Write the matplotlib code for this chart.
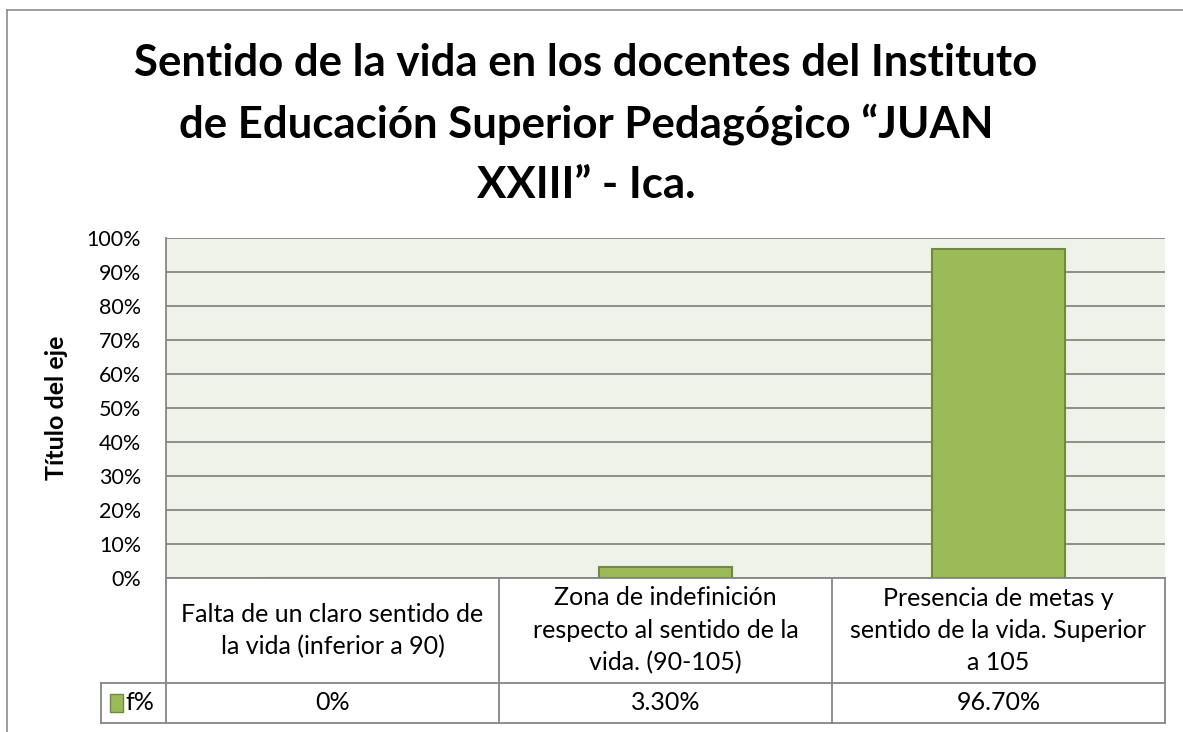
import matplotlib.pyplot as plt
from matplotlib.lines import Line2D
from matplotlib.patches import Rectangle

# datos
categorias = ['Falta de un claro sentido de\nla vida (inferior a 90)',
              'Zona de indefinición\nrespecto al sentido de la\nvida. (90-105)',
              'Presencia de metas y\nsentido de la vida. Superior\na 105']
valores = [0.0, 3.3, 96.7]
etiquetas_valor = ['0%', '3.30%', '96.70%']
serie = 'f%'
yticks = list(range(0, 101, 10))

titulo = ('Sentido de la vida en los docentes del Instituto\n'
          'de Educación Superior Pedagógico \u201cJUAN\n'
          'XXIII\u201d - Ica.')

plt.rcParams['font.family'] = ['Lato', 'DejaVu Sans']

verde = '#9BBB59'
borde_verde = '#71893F'
gris = '#868686'

fig = plt.figure(figsize=(11.83, 7.32), dpi=100)
W, H = 1183, 732

def fx(px):
    return px / W

def fy(py):
    return 1 - py / H

# marco exterior
fig.add_artist(Line2D([fx(7), fx(7)], [fy(10), 0], color='#8c8c8c', lw=1.2))
fig.add_artist(Line2D([fx(7), 1], [fy(10), fy(10)], color='#8c8c8c', lw=1.2))

# area de trazado
ax = fig.add_axes([fx(166), fy(578), fx(1165) - fx(166), fy(238) - fy(578)])
ax.set_facecolor('#EFF2E8')
x = list(range(len(categorias)))
ax.bar(x, valores, width=0.4, color=verde, edgecolor=borde_verde, linewidth=1.5, zorder=3)
ax.set_xlim(-0.5, len(categorias) - 0.5)
ax.set_ylim(0, 100)
ax.set_yticks(yticks)
ax.set_yticklabels([f'{t}%' for t in yticks], fontsize=15.5)
ax.tick_params(axis='y', length=0, pad=18)
ax.set_xticks([])
ax.yaxis.grid(True, color=gris, lw=1.3, zorder=1)
for s in ['top', 'right', 'bottom']:
    ax.spines[s].set_visible(False)
ax.spines['left'].set_color(gris)
ax.spines['left'].set_linewidth(1.3)

# tabla de datos
tab = fig.add_axes([fx(166), fy(723), fx(1165) - fx(166), fy(578) - fy(723)])
tab.set_xlim(-0.5, len(categorias) - 0.5)
tab.set_ylim(0, 1)
tab.axis('off')
sep = 40 / 145  # altura fila de valores
kw = dict(color=gris, lw=1.3, clip_on=False)
for i in range(len(categorias) + 1):
    tab.plot([i - 0.5, i - 0.5], [0, 1], **kw)
tab.plot([-0.5, len(categorias) - 0.5], [1, 1], **kw)
izq = -0.5 - 65 * 3 / 999
tab.plot([izq, len(categorias) - 0.5], [sep, sep], **kw)
tab.plot([izq, len(categorias) - 0.5], [0, 0], **kw)
tab.plot([izq, izq], [0, sep], **kw)
for i, (c, v) in enumerate(zip(categorias, etiquetas_valor)):
    tab.text(i, (1 + sep) / 2, c, ha='center', va='center', fontsize=18, linespacing=1.5)
    tab.text(i, sep / 2, v, ha='center', va='center', fontsize=18)
tab.add_patch(Rectangle((-0.5 - 56 * 3 / 999, sep / 2 - 0.065), 13 * 3 / 999, 0.13,
                        facecolor=verde, edgecolor=borde_verde, lw=1, clip_on=False))
tab.text(-0.5 - 41 * 3 / 999, sep / 2, serie, ha='left', va='center', fontsize=18)

fig.text(fx(586), fy(124), titulo, ha='center', va='center', fontsize=31.5,
         fontweight='bold', linespacing=1.6)
fig.text(fx(57), fy(408), 'Título del eje', rotation=90, ha='center', va='center',
         fontsize=18, fontweight='bold')

plt.savefig('out.png', dpi=100)
